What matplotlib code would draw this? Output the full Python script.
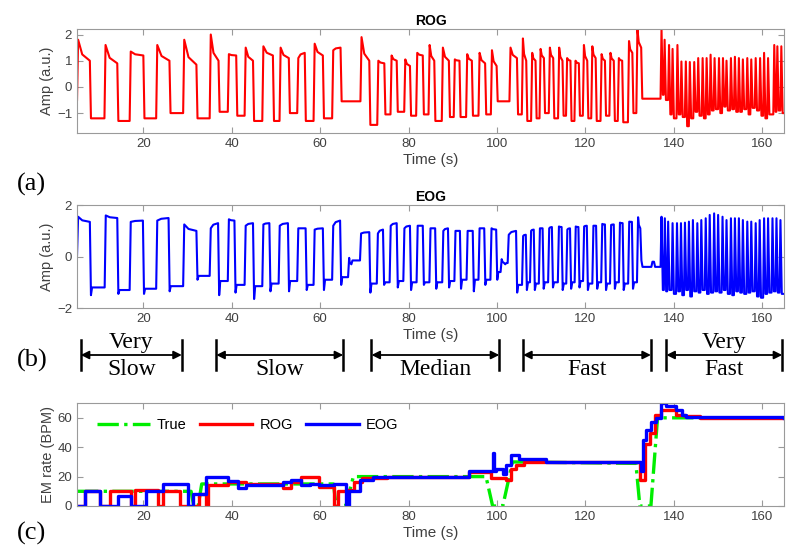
import numpy as np
import matplotlib
matplotlib.use("Agg")
from matplotlib import pyplot as plt
from matplotlib import transforms

plt.rcParams['font.family'] = ['Liberation Sans', 'DejaVu Sans']

# ---- ROG cycles (a): rise time, peak, fall time, plateau end, low level
rog_up = [5.0, 11.2, 16.9, 22.9, 29.0, 35.0, 39.1, 42.9, 46.9, 50.8, 54.8, 58.5, 62.7,
          69.1, 72.9, 75.9, 79.0, 81.7, 84.5, 87.5, 90.2, 93.0, 95.8, 98.6,
          102.8, 105.6, 107.7, 109.6, 111.7, 113.8, 115.6, 117.5, 119.4, 121.3, 123.4,
          125.4, 127.3, 129.6, 131.5]
rog_pk = [1.8, 1.6, 1.35, 1.6, 1.8, 2.0, 1.25, 1.5, 1.55, 1.5, 1.1, 1.65, 1.4,
          1.9, 1.0, 1.2, 1.05, 1.3, 1.6, 1.5, 1.05, 1.25, 1.3, 1.4,
          1.5, 1.85, 1.3, 1.45, 1.5, 1.5, 1.1, 1.0, 1.6, 1.55, 1.25, 1.3, 1.1, 1.75, 2.2]
rog_dn = [7.9, 14.1, 20.0, 25.9, 32.0, 37.0, 41.0, 44.8, 49.3, 52.9, 56.5, 60.6, 64.6,
          71.1, 74.5, 77.3, 80.3, 83.2, 85.8, 89.1, 91.5, 94.3, 97.3, 99.9,
          104.5, 106.6, 108.7, 110.6, 112.7, 114.8, 116.6, 118.5, 120.4, 122.3, 124.4,
          126.4, 128.3, 130.6, 132.6]
rog_end = [1.0, 0.9, 1.2, 1.0, 0.85, 1.0, 1.2, 1.0, 1.2, 1.1, 1.3, 1.2, 1.5,
           1.0, 0.9, 1.0, 0.8, 1.2, 1.0, 1.0, 1.0, 1.0, 0.9, 0.8,
           1.1, 1.0, 1.0, 1.1, 1.1, 1.0, 1.0, 0.9, 1.0, 1.1, 1.0, 1.0, 1.0, 1.3, 1.5]
rog_lo = [-1.2, -1.3, -1.2, -1.0, -1.2, -0.95, -1.1, -1.3, -1.3, -1.0, -1.3, -1.2, -0.55,
          -1.45, -1.05, -0.95, -1.1, -1.05, -1.3, -1.15, -1.15, -1.1, -1.05, -0.55,
          -1.05, -1.3, -1.2, -1.0, -1.2, -1.1, -1.3, -1.1, -1.2, -1.3, -1.1, -1.3, -1.35, -1.0, -0.45]
# very fast ROG: peak times, peaks, troughs
rog_vf_t = [137.2, 137.9, 138.9, 139.7, 140.8, 141.7, 142.7, 143.6, 144.6, 145.5,
            146.5, 147.4, 148.3, 149.2, 150.2, 151.1, 151.9, 152.9, 153.8, 154.7,
            155.6, 156.6, 157.5, 158.5, 159.5, 160.4, 161.3, 162.7, 163.4, 164.3]
rog_vf_pk = [2.2, 1.8, 1.6, 1.45, 1.6, 0.97, 0.97, 0.95, 0.95, 1.1, 1.1, 1.1, 1.23, 1.1, 1.1,
             1.1, 1.0, 1.1, 1.15, 1.1, 1.05, 1.1, 1.05, 1.1, 1.1, 1.3, 1.1, 1.6, 1.55, 1.55]
rog_vf_tr = [-0.3, -0.5, -1.05, -1.2, -1.05, -1.15, -1.5, -1.2, -0.95, -1.1, -1.2, -1.05,
             -0.9, -0.85, -1.0, -0.75, -0.9, -0.85, -0.95, -0.95, -0.85, -1.05, -0.8, -0.9,
             -1.1, -1.2, -1.05, -0.95, -0.9, -1.0]

# ---- EOG cycles (b): rise time, peak, fall time, plateau end, overshoot, low level
eog_up = [5.0, 11.25, 16.9, 22.9, 29.0, 35.0, 39.1, 42.9, 46.9, 50.6, 54.8, 58.5, 62.7, 66.3,
          69.0, 72.8, 75.7, 78.8, 81.8, 84.7, 87.6, 90.35, 93.1, 95.8, 98.5, 100.8,
          102.4, 105.65, 107.45, 109.45, 111.55, 113.75, 115.65, 117.55, 119.45, 121.55,
          123.55, 125.55, 127.55, 129.65, 131.65, 134.9]
eog_pk = [1.55, 1.6, 1.35, 1.4, 1.25, 1.1, 1.45, 1.2, 1.25, 1.2, 1.1, 1.05, 1.2, -0.05,
          0.9, 0.9, 1.2, 1.1, 1.2, 1.1, 1.0, 1.0, 1.0, 1.1, 1.1, -0.1,
          0.85, 0.8, 1.0, 1.1, 1.1, 1.17, 1.05, 1.17, 1.17, 1.2, 1.27, 1.23, 1.32, 1.36, 1.53, -0.2]
eog_dn = [7.9, 14.1, 19.9, 25.7, 32.0, 36.9, 40.6, 44.8, 48.5, 52.7, 56.7, 60.6, 64.5, 66.8,
          71.1, 74.2, 77.3, 80.3, 83.2, 86.0, 88.9, 91.6, 94.5, 97.1, 99.8, 101.6,
          104.3, 106.5, 108.3, 110.3, 112.4, 114.6, 116.5, 118.4, 120.3, 122.4,
          124.4, 126.4, 128.4, 130.5, 132.4, 135.5]
eog_end = [1.35, 1.5, 1.4, 1.5, 1.0, 1.3, 1.4, 1.3, 1.3, 1.3, 1.1, 1.1, 1.4, -0.25,
           0.95, 1.05, 1.3, 1.2, 1.2, 1.1, 1.1, 1.0, 1.0, 1.1, 1.05, -0.25,
           1.0, 0.85, 1.05, 1.1, 1.15, 1.15, 1.1, 1.15, 1.2, 1.2, 1.25, 1.25, 1.3, 1.35, 1.1, -0.2]
eog_dip = [-1.5, -1.45, -1.45, -1.35, -0.9, -1.5, -1.4, -1.65, -1.35, -1.35, -1.3, -1.3, -1.1, -0.3,
           -1.4, -1.1, -1.2, -1.3, -1.1, -1.25, -1.2, -1.25, -1.35, -1.1, -0.9, -0.3,
           -1.4, -1.3, -1.3, -1.25, -1.2, -1.3, -1.25, -1.2, -1.3, -1.25, -1.3, -1.25, -1.3,
           -1.25, -0.15, -0.4]
eog_lo = [-1.2, -1.3, -1.25, -1.15, -0.75, -0.95, -1.1, -1.15, -1.05, -0.95, -1.1, -0.9, -0.8, -0.15,
          -1.05, -1.0, -0.95, -1.0, -1.0, -1.0, -0.95, -0.9, -0.9, -0.9, -0.6, -0.25,
          -1.1, -1.0, -1.05, -1.0, -1.0, -1.05, -1.0, -0.95, -1.05, -1.0, -1.05, -1.0, -1.05,
          -1.0, -0.4, -0.4]
eog_vf_t = [137.2, 137.95, 138.7, 139.7, 140.7, 141.6, 142.5, 143.4, 144.3, 145.3,
            146.2, 147.2, 148.1, 149.1, 150.0, 151.0, 151.9, 152.9, 153.8, 154.7,
            155.6, 156.6, 157.5, 158.5, 159.4, 160.4, 161.3, 162.3, 163.2, 164.1]
eog_vf_pk = [1.55, 1.49, 1.36, 1.3, 1.3, 1.3, 1.32, 1.36, 1.42, 1.3, 1.42, 1.49, 1.62, 1.68,
             1.62, 1.55, 1.42, 1.49, 1.49, 1.49, 1.42, 1.36, 1.36, 1.3, 1.42, 1.49, 1.49,
             1.49, 1.49, 1.42]
eog_vf_tr = [-1.3, -1.35, -1.3, -1.45, -1.35, -1.5, -1.3, -1.55, -1.35, -1.4, -1.3, -1.45,
             -1.4, -1.35, -1.4, -1.3, -1.45, -1.5, -1.35, -1.4, -1.45, -1.4, -1.35, -1.55,
             -1.6, -1.45, -1.4, -1.35, -1.4, -1.45]

# ---- EM rate (c)
true_t = [5, 30.8, 31.4, 32.4, 33.2, 63.0, 63.6, 65.8, 67.5, 97.5, 99.0, 101.3, 103.5,
          131.4, 132.3, 134.8, 136.3, 165]
true_v = [10, 10, 0, 0, 15, 15, 0, 0, 20, 20, 0, 0, 30, 29, 0, 0, 60, 60]
rog_rate_t = [5, 6.7, 10.1, 12.4, 17.3, 18.0, 23.3, 24.4, 28.2, 30.1, 32.7, 34.2, 34.6,
              39.1, 43.2, 51.5, 53.4, 55.7, 59.8, 63.2, 64.0, 65.8, 67.7, 69.5, 75,
              93.7, 98.6, 102.0, 103.1, 104.3, 106, 132.3, 133.5, 134.5, 135.8, 137.0,
              140.5, 142.5, 146, 165]
rog_rate_v = [0, 10, 0, 10, 0, 11, 0, 10, 0, 0, 8, 0, 14,
              16, 15, 12, 16, 20, 13, 0, 10, 11, 16, 19, 20,
              23, 19, 18, 25, 28, 30, 18, 42, 50, 62, 65,
              62, 61, 60, 60]
eog_rate_t = [5, 6.7, 10.1, 14.3, 17.3, 20.7, 24.4, 30.1, 31.2, 34.2, 39.1, 41.4, 43.2,
              51.5, 53.4, 55.7, 57.6, 59.8, 63.2, 65.8, 66.5, 68.9, 72, 93.7, 99.0, 99.4,
              99.8, 101.3, 102.0, 103.1, 103.5, 105.0, 111.0, 132.5, 132.9, 133.6, 134.8,
              135.9, 137.0, 138.2, 140.4, 141.9, 142.7, 165]
eog_rate_v = [0, 10, 0, 7, 0, 10, 15, 0, 8, 20, 17, 12, 14,
              16, 18, 14, 15, 14, 15, 0, 10, 18, 20, 24, 36, 24,
              25, 22, 28, 35, 35, 32, 30, 24, 45, 52, 57,
              60, 70, 68, 65, 62, 60.5, 60]

# ---- speed bands annotated under (b)
band_start = [5.85, 36.5, 71.6, 105.9, 138.3]
band_end = [28.7, 65.2, 100.5, 134.8, 164.5]
band_top = ['Very', '', '', '', 'Very']
band_bottom = ['Slow', 'Slow', 'Median', 'Fast', 'Fast']

RAMP = 0.25


def build_wave(t0, v0, up, pk, dn, end, dip, lo, vf_t, vf_pk, vf_tr):
    t, v = [t0], [v0]
    for i in range(len(up)):
        # quick decay after the saccade peak, then a slowly drifting plateau
        t_knee = up[i] + RAMP + 0.35 * (dn[i] - up[i] - RAMP)
        v_knee = end[i] + 0.3 * (pk[i] - end[i])
        t += [up[i], up[i] + RAMP, t_knee, dn[i], dn[i] + RAMP, dn[i] + 2 * RAMP]
        v += [v[-1], pk[i], v_knee, end[i], dip[i], lo[i]]
    for p, a, b in zip(vf_t, vf_pk, vf_tr):
        t += [p - 0.22, p, p + 0.3]
        v += [v[-1], a, b]
    t.append(165)
    v.append(v[-1])
    return np.array(t), np.array(v)


rog_t, rog_v = build_wave(5.0, -0.5, rog_up, rog_pk, rog_dn, rog_end, rog_lo, rog_lo,
                          rog_vf_t, rog_vf_pk, rog_vf_tr)
eog_t, eog_v = build_wave(5.0, 0.05, eog_up, eog_pk, eog_dn, eog_end, eog_dip, eog_lo,
                          eog_vf_t, eog_vf_pk, eog_vf_tr)

fig = plt.figure(figsize=(7.86, 5.53), dpi=100)
ax_a = fig.add_axes([0.098, 0.759, 0.9, 0.189])
ax_b = fig.add_axes([0.098, 0.443, 0.9, 0.186])
ax_c = fig.add_axes([0.098, 0.085, 0.9, 0.186])

spine_col = '#9a9a9a'
tick_col = '#404040'


def style(ax):
    for s in ax.spines.values():
        s.set_color(spine_col)
        s.set_linewidth(0.8)
    ax.tick_params(direction='in', top=True, right=True, length=4, width=0.8,
                   color=spine_col, labelcolor=tick_col, labelsize=9.5)
    ax.set_xlim(5, 165)
    ax.set_xticks(np.arange(20, 165, 20))


ax_a.plot(rog_t, rog_v, color='#ff0000', lw=1.5)
style(ax_a)
ax_a.set_ylim(-1.77, 2.22)
ax_a.set_yticks([-1, 0, 1, 2])
ax_a.set_title('ROG', fontsize=10, fontweight='bold', pad=3)
ax_a.set_ylabel('Amp (a.u.)', fontsize=10.5, color=tick_col, labelpad=2)
ax_a.set_xlabel('Time (s)', fontsize=11, color=tick_col, labelpad=2)

ax_b.plot(eog_t, eog_v, color='#0000ff', lw=1.5)
style(ax_b)
ax_b.set_ylim(-2, 2)
ax_b.set_yticks([-2, 0, 2])
ax_b.set_title('EOG', fontsize=10, fontweight='bold', pad=3)
ax_b.set_ylabel('Amp (a.u.)', fontsize=10.5, color=tick_col, labelpad=2)
ax_b.set_xlabel('Time (s)', fontsize=11, color=tick_col, labelpad=2)

ax_c.plot(true_t, true_v, color='#00ee00', lw=2.4, ls='-.', label='True')
ax_c.step(rog_rate_t, rog_rate_v, where='post', color='#ff0000', lw=2.4, label='ROG')
ax_c.step(eog_rate_t, eog_rate_v, where='post', color='#0000ff', lw=2.4, label='EOG')
style(ax_c)
ax_c.set_ylim(0, 70)
ax_c.set_yticks([0, 20, 40, 60])
ax_c.set_ylabel('EM rate (BPM)', fontsize=10.5, color=tick_col, labelpad=2)
ax_c.set_xlabel('Time (s)', fontsize=11, color=tick_col, labelpad=2)
ax_c.legend(loc='upper left', ncol=3, frameon=False, fontsize=10.5, handlelength=3.6,
            columnspacing=0.9, handletextpad=0.5, bbox_to_anchor=(0.01, 0.98))

# speed band arrows between (b) and (c)
trans = transforms.blended_transform_factory(ax_b.transData, fig.transFigure)
y_arrow = 1 - 355 / 553
for x0, x1, top, bottom in zip(band_start, band_end, band_top, band_bottom):
    ax_b.annotate('', xy=(x0, y_arrow), xytext=(x1, y_arrow), xycoords=trans,
                  textcoords=trans,
                  arrowprops=dict(arrowstyle='<|-|>', color='black', lw=1.3,
                                  mutation_scale=12, shrinkA=0, shrinkB=0))
    for xb in (x0, x1):
        ax_b.plot([xb, xb], [y_arrow - 0.027, y_arrow + 0.027], color='black', lw=1.8,
                  transform=trans, clip_on=False)
    xm = (x0 + x1) / 2
    if top:
        ax_b.text(xm, y_arrow + 0.003, top, transform=trans, ha='center', va='bottom',
                  fontsize=17, family='Liberation Serif')
    ax_b.text(xm, y_arrow - 0.008, bottom, transform=trans, ha='center', va='top',
              fontsize=17, family='Liberation Serif')

for label, yy in [('(a)', 1 - 184 / 553), ('(b)', 1 - 360 / 553), ('(c)', 1 - 533 / 553)]:
    fig.text(17 / 786, yy, label, fontsize=19, family='Liberation Serif', va='center', ha='left')

fig.savefig('out.png', dpi=100)
